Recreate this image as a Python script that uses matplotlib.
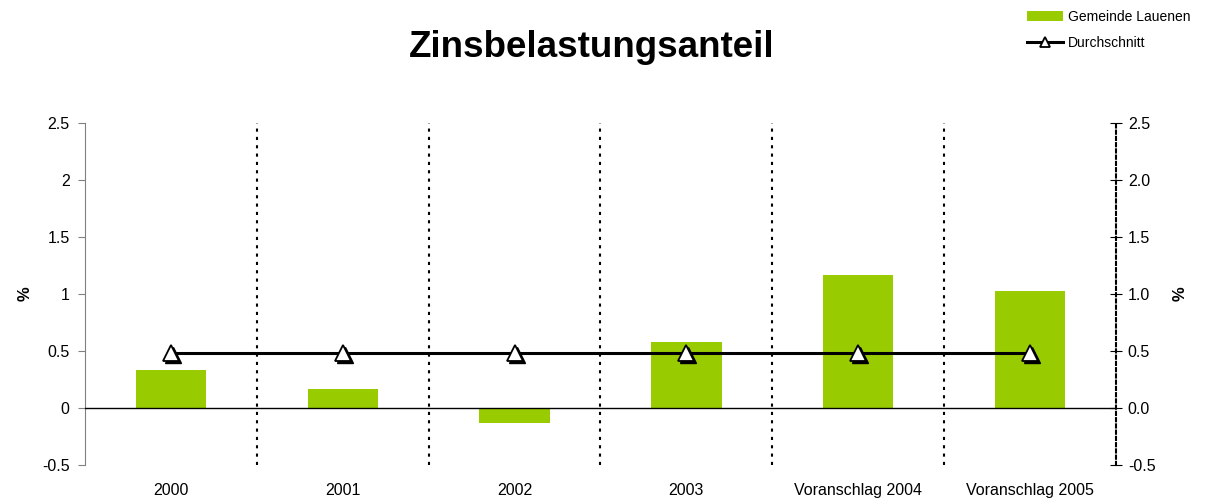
import matplotlib
matplotlib.use("Agg")
import matplotlib.pyplot as plt
from matplotlib.transforms import offset_copy

plt.rcParams['font.family'] = ['Liberation Sans', 'DejaVu Sans']

# data
categories = ["2000", "2001", "2002", "2003", "Voranschlag 2004", "Voranschlag 2005"]
gemeinde = [0.33, 0.17, -0.13, 0.58, 1.17, 1.03]
durchschnitt = [0.48, 0.48, 0.48, 0.48, 0.48, 0.48]
left_ticks = [-0.5, 0, 0.5, 1, 1.5, 2, 2.5]
left_labels = ["-0.5", "0", "0.5", "1", "1.5", "2", "2.5"]
right_labels = ["-0.5", "0.0", "0.5", "1.0", "1.5", "2.0", "2.5"]

green = "#99cc00"

fig = plt.figure(figsize=(12.11, 5.04), dpi=100)
ax = fig.add_axes([85 / 1211, 39 / 504, (1116 - 85) / 1211, 342 / 504])

x = list(range(len(categories)))
ax.bar(x, gemeinde, width=0.41, color=green, zorder=2, label="Gemeinde Lauenen")
ax.axhline(0, color="black", lw=1, zorder=3)

# shadow of the triangles
shadow = offset_copy(ax.transData, fig=fig, x=2, y=-2, units="dots")
ax.plot(x, durchschnitt, ls="none", marker="^", ms=12, color="black",
        transform=shadow, zorder=4)
ax.plot(x, durchschnitt, color="black", lw=2.2, marker="^", ms=12,
        markerfacecolor="white", markeredgecolor="black", markeredgewidth=1.3,
        zorder=5, label="Durchschnitt")

# dotted dividers between categories
for i in range(len(categories) - 1):
    ax.axvline(i + 0.5, color="black", ls=(0, (1.5, 2.5)), lw=1.5, zorder=1)

ax.set_xlim(-0.5, len(categories) - 0.5)
ax.set_ylim(-0.5, 2.5)

for s in ["top", "bottom"]:
    ax.spines[s].set_visible(False)
ax.spines["left"].set_color("#808080")
ax.spines["right"].set_visible(False)

ax.set_yticks(left_ticks)
ax.set_yticklabels(left_labels)
ax.tick_params(axis="y", direction="out", length=5, color="#808080", labelsize=11.5, pad=6)
ax.set_xticks(x)
ax.set_xticklabels(categories)
ax.tick_params(axis="x", length=0, labelsize=11.5, pad=13)
ax.set_ylabel("%", fontsize=12, fontweight="bold")
ax.yaxis.set_label_coords(-0.051, 0.5)

# right axis
ax2 = ax.twinx()
ax2.set_ylim(-0.5, 2.5)
ax2.set_yticks(left_ticks)
ax2.set_yticklabels(right_labels)
ax2.tick_params(axis="y", direction="inout", length=9, color="black", labelsize=11.5, pad=4)
for s in ["top", "bottom", "left"]:
    ax2.spines[s].set_visible(False)
ax2.spines["right"].set_linestyle((0, (1.5, 1.5)))
ax2.spines["right"].set_linewidth(1.5)
ax2.set_ylabel("%", fontsize=12, fontweight="bold", rotation=90)
ax2.yaxis.set_label_coords(1.055, 0.5)

fig.text(0.489, 0.905, "Zinsbelastungsanteil", ha="center", va="center",
         fontsize=26.5, fontweight="bold")

h, l = ax.get_legend_handles_labels()
leg = fig.legend(h[::-1], l[::-1], loc="upper right", bbox_to_anchor=(0.993, 1.005),
                 frameon=False, fontsize=10, handlelength=2.6, handletextpad=0.3,
                 labelspacing=0.85)
leg.legend_handles[1].set_markersize(7)

fig.savefig("out.png", dpi=100)
